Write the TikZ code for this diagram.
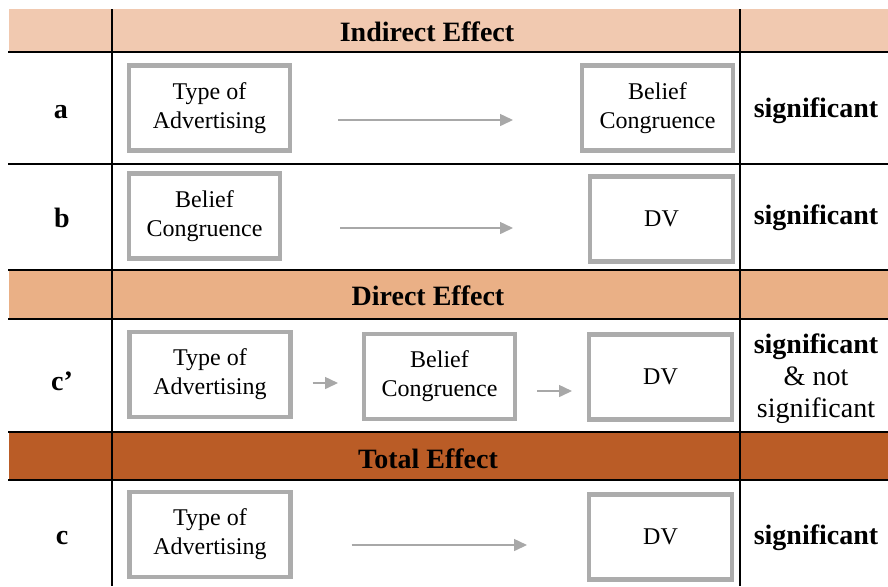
\documentclass[tikz,border=0pt]{standalone}
\usepackage{fontspec}
\setmainfont{Liberation Serif}
\usetikzlibrary{arrows.meta, positioning}
\definecolor{headlight}{RGB}{241, 201, 176}
\definecolor{headmid}{RGB}{234, 176, 134}
\definecolor{headdark}{RGB}{186, 92, 38}
\definecolor{boxgray}{RGB}{172, 172, 172}
\definecolor{arrowgray}{RGB}{168, 168, 168}

\begin{document}
\begin{tikzpicture}[x=0.5pt, y=-0.5pt,
  varbox/.style={draw=boxgray, line width=2.2pt, fill=white, align=center,
    inner sep=0pt, minimum height=42.5pt, font=\fontsize{12}{14.5}\selectfont},
  typebox/.style={varbox, minimum width=80.5pt},
  belbox/.style={varbox, minimum width=75.3pt},
  dvbox/.style={varbox, minimum width=71.3pt},
  flow/.style={arrowgray, line width=0.75pt, -{Triangle[length=6.5pt, width=6pt]}},
  rule/.style={black, line width=1pt},
  headtext/.style={font=\fontsize{14}{16}\selectfont\bfseries},
  coltext/.style={font=\fontsize{14}{16}\selectfont, align=center}]
  \useasboundingbox (0, 0) rectangle (888, 586);

  % header bands
  \fill[headlight] (9, 9) rectangle (888, 52);
  \fill[headmid] (9, 270) rectangle (888, 319);
  \fill[headdark] (9, 432) rectangle (888, 480);

  % table rules
  \foreach \yy in {52, 164, 270, 319, 432, 480}
    \draw[rule] (8, \yy) -- (888, \yy);
  \draw[rule] (112, 9) -- (112, 586);
  \draw[rule] (740, 9) -- (740, 586);

  % headers
  \node[headtext] (headInd) at (427, 32) {Indirect Effect};
  \node[headtext] (headDir) at (428, 296) {Direct Effect};
  \node[headtext] (headTot) at (428, 459) {Total Effect};

  % path labels
  \node[headtext] (labA) at (61, 112) {a};
  \node[headtext] (labB) at (62, 218) {b};
  \node[headtext] (labCp) at (62, 381) {c’};
  \node[headtext] (labC) at (62, 538) {c};

  % row a
  \node[typebox] (aType) at (209.5, 108) {Type of\\Advertising};
  \node[belbox] (aBel) at (657.5, 108) {Belief\\Congruence};
  \draw[flow, shorten <=23pt, shorten >=33.5pt]
    ([yshift=-6pt]aType.east) -- ([yshift=-6pt]aBel.west);

  % row b
  \node[belbox] (bBel) at (204.5, 216) {Belief\\Congruence};
  \node[dvbox] (bDV) at (661.5, 219) {DV};
  \draw[flow, shorten <=29pt, shorten >=37.5pt]
    ([yshift=-6pt]bBel.east) -- ([yshift=-4.5pt]bDV.west);

  % row c'
  \node[typebox] (cpType) at (210, 374.5) {Type of\\Advertising};
  \node[belbox] (cpBel) at (439.5, 376.5) {Belief\\Congruence};
  \node[dvbox] (cpDV) at (660.5, 377) {DV};
  \draw[flow, shorten <=10pt, shorten >=12pt]
    ([yshift=-4.25pt]cpType.east) -- ([yshift=-3.25pt]cpBel.west);
  \draw[flow, shorten <=10pt, shorten >=7.5pt]
    ([yshift=-7.25pt]cpBel.east) -- ([yshift=-7pt]cpDV.west);

  % row c
  \node[typebox] (cType) at (210, 534.5) {Type of\\Advertising};
  \node[dvbox] (cDV) at (660.5, 537) {DV};
  \draw[flow, shorten <=29.5pt, shorten >=30pt]
    ([yshift=-5.25pt]cType.east) -- ([yshift=-4pt]cDV.west);

  % results
  \node[coltext, font=\fontsize{14}{16}\selectfont\bfseries] (sigA) at (816, 111) {significant};
  \node[coltext, font=\fontsize{14}{16}\selectfont\bfseries] (sigB) at (816, 218) {significant};
  \node[coltext] (sigCp) at (816, 379) {\textbf{significant}\\\& not\\significant};
  \node[coltext, font=\fontsize{14}{16}\selectfont\bfseries] (sigC) at (816, 538) {significant};
\end{tikzpicture}
\end{document}
